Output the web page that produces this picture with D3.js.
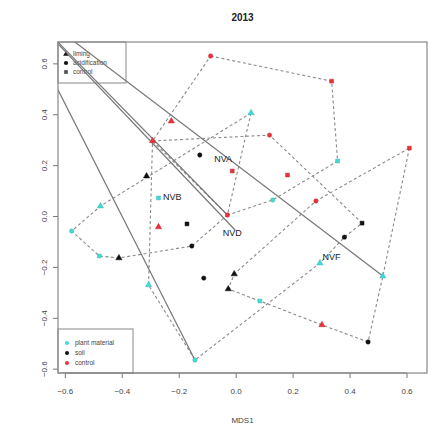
<!DOCTYPE html>
<html><head><meta charset="utf-8">
<script src="https://cdn.jsdelivr.net/npm/d3@7"></script>
<style>body{margin:0;background:#fff}</style>
</head><body><svg id="c" width="430" height="428"></svg>
<script>
// ---------- data (MDS1 / MDS2 scores) ----------
const pointIds   = ["c1","c2","c3","c4","c5","c6","c7","c8","c9","c10","c11","c12",
                    "b1","b2","b3","b4","b5","b6","b7","b8","b9","b10","b11",
                    "r1","r2","r3","r4","r5","r6","r7","r8","r9","r10","r11","r12"];
const pointMDS1  = [0.054,0.358,0.130,0.296,0.517,0.085,-0.143,-0.306,-0.479,-0.576,-0.475,-0.271,
                    -0.126,-0.313,-0.171,-0.410,-0.154,-0.112,-0.005,-0.026,0.444,0.382,0.465,
                    -0.088,0.337,-0.226,-0.292,0.119,-0.012,0.182,0.610,0.282,-0.029,-0.271,0.303];
const pointMDS2  = [0.405,0.216,0.063,-0.185,-0.236,-0.334,-0.566,-0.271,-0.157,-0.059,0.039,0.071,
                    0.240,0.157,-0.031,-0.165,-0.118,-0.244,-0.228,-0.287,-0.028,-0.083,-0.495,
                    0.629,0.530,0.373,0.295,0.318,0.177,0.161,0.267,0.059,0.004,-0.043,-0.428];
const pointType  = ["plant material","plant material","plant material","plant material","plant material","plant material",
                    "plant material","plant material","plant material","plant material","plant material","plant material",
                    "soil","soil","soil","soil","soil","soil","soil","soil","soil","soil","soil",
                    "control","control","control","control","control","control","control","control","control","control","control","control"];
const pointTreat = ["liming","control","acidification","liming","liming","control","acidification","liming","control","acidification","liming","control",
                    "acidification","liming","control","liming","acidification","acidification","liming","liming","control","acidification","acidification",
                    "acidification","control","liming","liming","acidification","control","control","control","acidification","acidification","liming","liming"];
// hulls per site (ordered vertex ids)
const hullNVA = ["r1","r2","c2","c3","r10","r4"];
const hullNVB = ["c1","c11","c10","c9","b4","b5","r10"];
const hullNVD = ["r4","r5","b9","b10","c4","c7","c8"];
const hullNVF = ["r8","c5","b11","r12","c6","b8","b7","r9"];
const siteNames = ["NVA","NVB","NVD","NVF"];
const siteMDS1  = [-0.044,-0.223,-0.012,0.337];
const siteMDS2  = [0.224,0.075,-0.067,-0.161];
// solid lines from an off-plot sample
const farPoint  = [-0.80, 0.884];
const solidEndMDS1 = [-0.029,-0.002,0.517,-0.143];
const solidEndMDS2 = [0.004,-0.055,-0.236,-0.566];
const xTicks = [-0.6,-0.4,-0.2,0.0,0.2,0.4,0.6];
const yTicks = [-0.6,-0.4,-0.2,0.0,0.2,0.4,0.6];
const typeNames  = ["plant material","soil","control"];
const typeColors = ["#45d8d8","#111111","#e8323a"];
const treatNames = ["liming","acidification","control"];

// ---------- layout ----------
const svg = d3.select("#c");
const L=58,R=427,T=42,B=373;
const x = d3.scaleLinear().domain([-0.624,0.672]).range([L,R]);
const y = d3.scaleLinear().domain([-0.617,0.684]).range([B,T]);
const font = "'Liberation Sans', Arial, sans-serif";
const col = d3.scaleOrdinal().domain(typeNames).range(typeColors);
const shape = d3.scaleOrdinal().domain(treatNames).range([d3.symbolTriangle,d3.symbolCircle,d3.symbolSquare]);
const sizeOf = {liming:17,acidification:15,control:15};

svg.append("text").attr("x",(L+R)/2).attr("y",21).attr("text-anchor","middle")
  .attr("font-family",font).attr("font-weight","bold").attr("font-size",10).attr("fill","#222").text("2013");

svg.append("defs").append("clipPath").attr("id","clip")
  .append("rect").attr("x",L).attr("y",T).attr("width",R-L).attr("height",B-T);

// axes
const xAxis = svg.append("g").attr("transform",`translate(0,${B})`)
  .call(d3.axisBottom(x).tickValues(xTicks).tickFormat(d3.format(".1f")).tickSize(5).tickPadding(10));
const yAxis = svg.append("g").attr("transform",`translate(${L},0)`)
  .call(d3.axisLeft(y).tickValues(yTicks).tickFormat(d3.format(".1f")).tickSize(5).tickPadding(6));
[xAxis,yAxis].forEach(g=>{
  g.select(".domain").remove();
  g.selectAll("line").attr("stroke","#777");
  g.selectAll("text").attr("font-family",font).attr("font-size",8).attr("fill","#444");
});
yAxis.selectAll(".tick text").attr("text-anchor","middle")
  .attr("transform","rotate(-90,-14,0)")
  .attr("x",-14).attr("dy","0.32em").attr("y",0);
svg.append("line").attr("x1",x(-0.6)).attr("x2",x(0.6)).attr("y1",B).attr("y2",B).attr("stroke","#777");
svg.append("text").attr("x",(L+R)/2).attr("y",423).attr("text-anchor","middle")
  .attr("font-family",font).attr("font-size",8).attr("fill","#444").text("MDS1");

// legends (drawn under the lines, unfilled, like the reference)
const lg1 = svg.append("g");
lg1.append("rect").attr("x",L).attr("y",T).attr("width",68).attr("height",41).attr("fill","none").attr("stroke","#888");
treatNames.forEach((t,i)=>{
  lg1.append("path").attr("d",d3.symbol().type(shape(t)).size(14)())
    .attr("transform",`translate(${L+8},${T+12+i*9})`).attr("fill",i==2?"#555":"#111");
  lg1.append("text").attr("x",L+15).attr("y",T+12+i*9).attr("dy","0.35em").attr("font-family",font)
    .attr("font-size",6.5).attr("fill","#444").text(t);
});
const lg2 = svg.append("g");
lg2.append("rect").attr("x",L).attr("y",329).attr("width",75).attr("height",B-329).attr("fill","none").attr("stroke","#888");
typeNames.forEach((t,i)=>{
  lg2.append("circle").attr("cx",L+9).attr("cy",343+i*10).attr("r",2).attr("fill",typeColors[i]);
  lg2.append("text").attr("x",L+17).attr("y",343+i*10).attr("dy","0.35em").attr("font-family",font)
    .attr("font-size",6.5).attr("fill","#444").text(t);
});

const plot = svg.append("g").attr("clip-path","url(#clip)");
const idx = id => pointIds.indexOf(id);
const line = d3.line().x(d=>x(pointMDS1[idx(d)])).y(d=>y(pointMDS2[idx(d)])).curve(d3.curveLinearClosed);
[hullNVA,hullNVB,hullNVD,hullNVF].forEach(h=>{
  plot.append("path").attr("d",line(h)).attr("fill","none").attr("stroke","#8a8a8a")
    .attr("stroke-width",1.1).attr("stroke-dasharray","3,2.5");
});
solidEndMDS1.forEach((ex,i)=>{
  plot.append("line").attr("x1",x(farPoint[0])).attr("y1",y(farPoint[1]))
    .attr("x2",x(ex)).attr("y2",y(solidEndMDS2[i])).attr("stroke","#777").attr("stroke-width",1.2);
});
pointIds.forEach((id,i)=>{
  plot.append("path").attr("d",d3.symbol().type(shape(pointTreat[i])).size(sizeOf[pointTreat[i]])())
    .attr("transform",`translate(${x(pointMDS1[i])},${y(pointMDS2[i])})`)
    .attr("fill",col(pointType[i])).attr("stroke",d3.color(col(pointType[i])).darker(0.4)).attr("stroke-width",0.5);
});
siteNames.forEach((s,i)=>{
  plot.append("text").attr("x",x(siteMDS1[i])).attr("y",y(siteMDS2[i])).attr("dy","0.35em")
    .attr("text-anchor","middle").attr("font-family",font).attr("font-size",9).attr("fill","#222").text(s);
});

// plot frame
svg.append("rect").attr("x",L).attr("y",T).attr("width",R-L).attr("height",B-T)
  .attr("fill","none").attr("stroke","#888").attr("stroke-width",1.2);
</script></body></html>
